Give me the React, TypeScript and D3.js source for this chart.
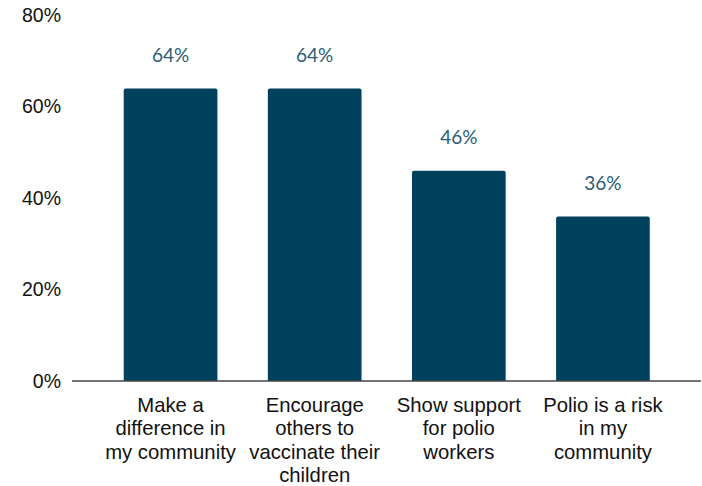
import React from "react";
import * as d3 from "d3";

const categories: string[][] = [
  ["Make a", "difference in", "my community"],
  ["Encourage", "others to", "vaccinate their", "children"],
  ["Show support", "for polio", "workers"],
  ["Polio is a risk", "in my", "community"],
];
const values: number[] = [64, 64, 46, 36];
const yTicks: number[] = [0, 20, 40, 60, 80];

export default function App() {
  const W = 702;
  const H = 486;
  const x = d3
    .scaleBand<number>()
    .domain(values.map((_, i) => i))
    .range([98.5, 675])
    .paddingInner(0.35)
    .paddingOuter(0.175);
  const y = d3.scaleLinear().domain([0, 80]).range([381, 15.4]);
  const barColor = "#00415e";
  const labelColor = "#2a5c78";

  return (
    <svg
      width={W}
      height={H}
      style={{ position: "absolute", left: 0, top: 0, background: "#fff" }}
    >
      {yTicks.map((t) => (
        <text
          key={t}
          x={61}
          y={y(t) + 6.5}
          textAnchor="end"
          fontFamily="'Liberation Sans', Arial, sans-serif"
          fontSize={19.5}
          fill="#111"
        >
          {t}%
        </text>
      ))}
      {values.map((v, i) => {
        const bx = x(i)!;
        const bw = x.bandwidth();
        const top = y(v);
        return (
          <g key={i}>
            <path
              d={`M${bx},${y(0)} V${top + 2} Q${bx},${top} ${bx + 2},${top} H${bx + bw - 2} Q${bx + bw},${top} ${bx + bw},${top + 2} V${y(0)} Z`}
              fill={barColor}
            />
            <text
              x={bx + bw / 2}
              y={top - 26.5}
              textAnchor="middle"
              fontFamily="Lato, 'Open Sans', sans-serif"
              fontSize={19}
              fill={labelColor}
            >
              {v}%
            </text>
            {categories[i].map((line, j) => (
              <text
                key={j}
                x={bx + bw / 2}
                y={411.5 + j * 23.6}
                textAnchor="middle"
                fontFamily="'Liberation Sans', Arial, sans-serif"
                fontSize={20.3}
                fill="#111"
              >
                {line}
              </text>
            ))}
          </g>
        );
      })}
      <line x1={72} x2={701} y1={381} y2={381} stroke="#444" strokeWidth={1.5} />
    </svg>
  );
}
